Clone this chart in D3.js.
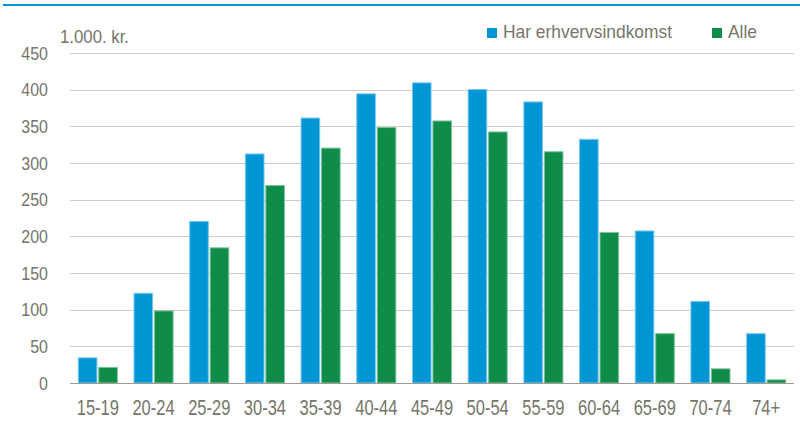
<!DOCTYPE html>
<html>
<head>
<meta charset="utf-8">
<script src="https://cdn.jsdelivr.net/npm/d3@7"></script>
<style>
  body { margin: 0; background: #fff; }
  text { font-family: Arial, "Liberation Sans", sans-serif; fill: #75756a; }
</style>
</head>
<body>
<svg id="chart" width="800" height="426"></svg>
<script>
var categories = ["15-19", "20-24", "25-29", "30-34", "35-39", "40-44", "45-49",
                  "50-54", "55-59", "60-64", "65-69", "70-74", "74+"];
var seriesNames = ["Har erhvervsindkomst", "Alle"];
var erhverv = [35, 123, 221, 313, 362, 395, 410, 401, 384, 333, 208, 112, 68];
var alle = [22, 99, 185, 270, 321, 349, 358, 343, 316, 206, 68, 20, 5];
var yTicks = [0, 50, 100, 150, 200, 250, 300, 350, 400, 450];
var unitLabel = "1.000. kr.";

var colors = ["#0096d6", "#0f8c48"];
var strokes = ["#7cc8ec", "#7cc3a0"];

var width = 800, height = 426,
    plotLeft = 70, plotRight = 794, plotTop = 53, plotBottom = 383;

var svg = d3.select("#chart");

var rows = categories.map(function(c, i) {
  return {cat: c, values: [erhverv[i], alle[i]]};
});

var x = d3.scaleBand().domain(categories).range([plotLeft, plotRight])
  .paddingInner(0.28).paddingOuter(0.14);
var x1 = d3.scaleBand().domain([0, 1]).range([0, x.bandwidth()]).paddingInner(0.04);
var y = d3.scaleLinear().domain([0, 450]).range([plotBottom, plotTop]);

// top rule
svg.append("line")
  .attr("x1", 3).attr("x2", width).attr("y1", 5).attr("y2", 5)
  .attr("stroke", "#0096d6").attr("stroke-width", 2);

// gridlines
svg.append("g").selectAll("line").data(yTicks.slice(1)).enter().append("line")
  .attr("x1", plotLeft).attr("x2", plotRight)
  .attr("y1", function(d) { return Math.round(y(d)) + 0.5; })
  .attr("y2", function(d) { return Math.round(y(d)) + 0.5; })
  .attr("stroke", "#cdcdc2").attr("stroke-width", 1);

// y labels
svg.append("g").selectAll("text").data(yTicks).enter().append("text")
  .attr("text-anchor", "end")
  .attr("transform", function(d) { return "translate(48," + (y(d) + 6.5) + ") scale(1,1.18)"; })
  .style("font-size", "16px")
  .text(function(d) { return d; });

svg.append("text")
  .attr("transform", "translate(60,43) scale(1,1.1)")
  .style("font-size", "16.8px")
  .text(unitLabel);

// bars
var groups = svg.append("g").selectAll("g").data(rows).enter().append("g")
  .attr("transform", function(d) { return "translate(" + x(d.cat) + ",0)"; });

groups.selectAll("rect").data(function(d) { return d.values; }).enter().append("rect")
  .attr("x", function(d, i) { return x1(i) + 0.5; })
  .attr("width", x1.bandwidth() - 1)
  .attr("y", function(d) { return y(d) + 0.5; })
  .attr("height", function(d) { return Math.max(0, plotBottom - y(d) - 0.5); })
  .attr("fill", function(d, i) { return colors[i]; })
  .attr("stroke", function(d, i) { return strokes[i]; })
  .attr("stroke-width", 1);

// baseline
svg.append("line")
  .attr("x1", plotLeft).attr("x2", plotRight)
  .attr("y1", plotBottom + 0.5).attr("y2", plotBottom + 0.5)
  .attr("stroke", "#9c9c90").attr("stroke-width", 1.2);

// x labels
svg.append("g").selectAll("text").data(categories).enter().append("text")
  .attr("text-anchor", "middle")
  .attr("transform", function(d) { return "translate(" + (x(d) + x.bandwidth() / 2) + ",415) scale(1,1.3)"; })
  .style("font-size", "16.5px")
  .text(function(d) { return d; });

// legend
var legX = [487, 712];
var leg = svg.append("g").selectAll("g").data(seriesNames).enter().append("g")
  .attr("transform", function(d, i) { return "translate(" + legX[i] + ",28)"; });
leg.append("rect").attr("width", 10).attr("height", 10)
  .attr("fill", function(d, i) { return colors[i]; });
leg.append("text")
  .attr("transform", "translate(16,10) scale(1,1.07)")
  .style("font-size", "17.4px")
  .text(function(d) { return d; });
</script>
</body>
</html>
